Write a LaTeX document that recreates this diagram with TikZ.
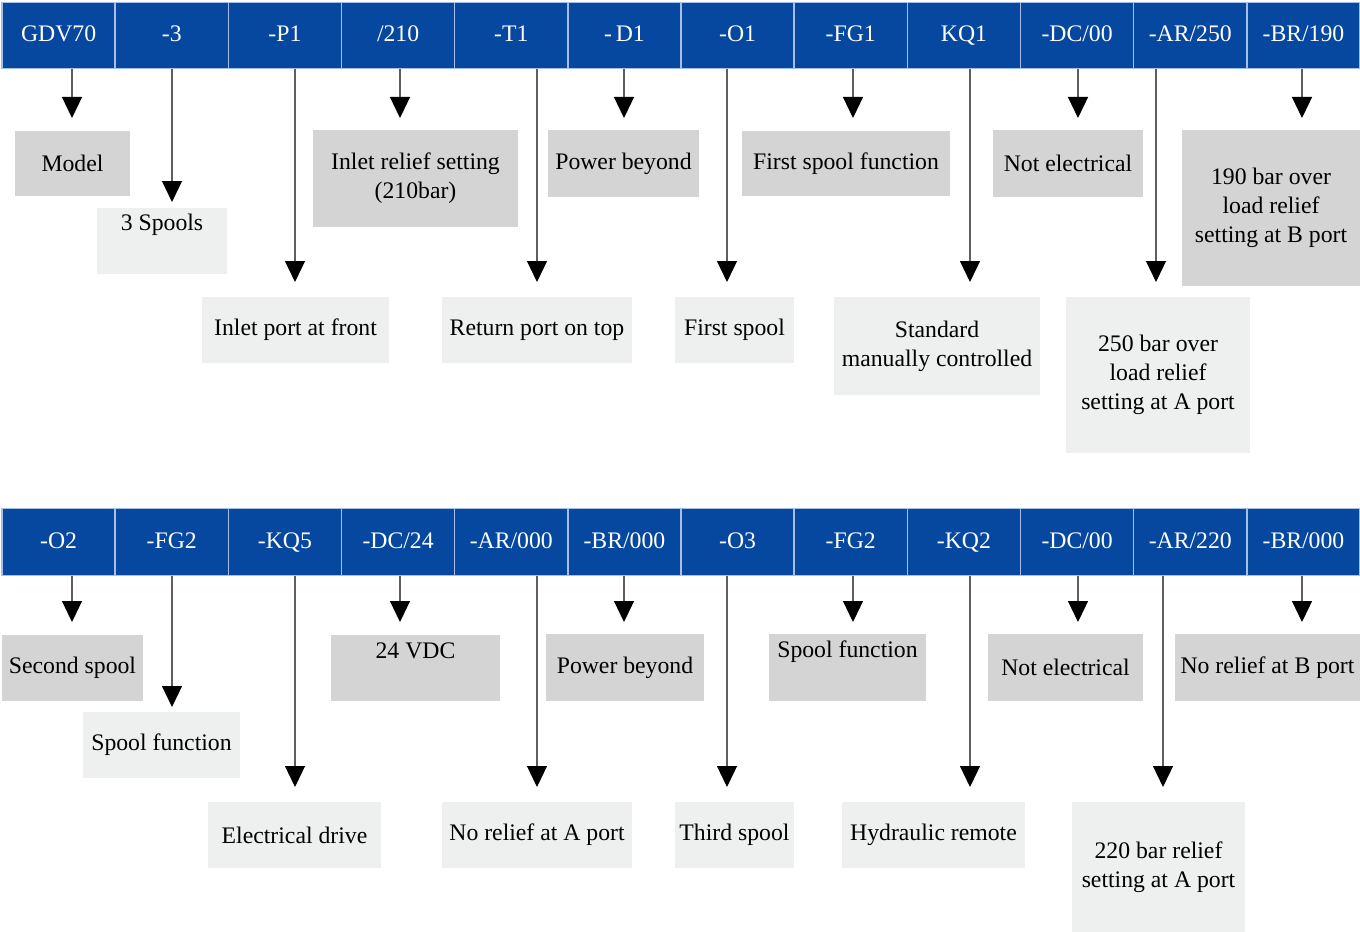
\documentclass[tikz,border=0pt]{standalone}
\usepackage{fontspec}
\setmainfont{LiberationSerif}[Extension=.ttf, UprightFont=*-Regular, BoldFont=*-Bold]
\usetikzlibrary{arrows.meta}

\definecolor{codeblue}{RGB}{6,72,160}
\definecolor{sepblue}{RGB}{165,192,232}
\definecolor{darkbox}{RGB}{212,212,212}
\definecolor{lightbox}{RGB}{238,239,239}
\definecolor{stemgray}{RGB}{95,95,95}

\begin{document}
\begin{tikzpicture}[x=0.02cm, y=-0.02cm,
    every node/.style={font=\fontsize{13.5}{16.5}\selectfont},
    code/.style={rectangle, draw=sepblue, line width=0.8pt, fill=codeblue, text=white, minimum width=2.263cm, minimum height=1.33cm, inner sep=0pt, text height=0.33cm, text depth=0.08cm},
    box/.style 2 args={rectangle, inner sep=0pt, outer sep=0pt, align=center, minimum width=#1*0.02cm, minimum height=#2*0.02cm},
    dark/.style={fill=darkbox},
    light/.style={fill=lightbox},
    topline/.style={text height=0.35cm, text depth=0.75cm},
    arrow/.style={-{Triangle[width=0.4cm, length=0.42cm, black]}, draw=stemgray, line width=0.7pt}
]
    \useasboundingbox (0,0) rectangle (1360,932);

    % ordering code, first line
    \foreach \t [count=\i] in {GDV70, -3, -P1, /210, -T1, -\,D1, -O1, -FG1, KQ1, -DC/00, -AR/250, -BR/190}
        \node[code] (h1-\i) at ({2+113.17*(\i-0.5)},35.5) {\t};

    % ordering code, second line
    \foreach \t [count=\i] in {-O2, -FG2, -KQ5, -DC/24, -AR/000, -BR/000, -O3, -FG2, -KQ2, -DC/00, -AR/220, -BR/000}
        \node[code] (h2-\i) at ({2+113.17*(\i-0.5)},542) {\t};

    % meanings, first line
    \node[box={115}{65}, dark] (model) at (72.5,163.5) {Model};
    \node[box={130}{66}, light, topline] (spools) at (162,241) {3 Spools};
    \node[box={205}{97}, dark] (inrelief) at (415.5,178.5) {Inlet relief setting\\(210bar)};
    \node[box={151}{67}, dark] (beyond1) at (623.5,163.5) {Power beyond};
    \node[box={208}{65}, dark] (firstfunc) at (846,163.5) {First spool function};
    \node[box={150}{67}, dark] (notel1) at (1068,163.5) {Not electrical};
    \node[box={178}{156}, dark] (brelief1) at (1271,208) {190 bar over\\load relief\\setting at B port};
    \node[box={187}{66}, light] (inport) at (295.5,330) {Inlet port at front};
    \node[box={190}{66}, light] (retport) at (537,330) {Return port on top};
    \node[box={119}{66}, light] (spool1) at (734.5,330) {First spool};
    \node[box={206}{98}, light] (manual) at (937,346) {Standard\\manually controlled};
    \node[box={184}{156}, light] (arelief1) at (1158,375) {250 bar over\\load relief\\setting at A port};

    % meanings, second line
    \node[box={141}{66}, dark] (spool2) at (72.5,668) {Second spool};
    \node[box={157}{66}, light] (func2) at (161.5,745) {Spool function};
    \node[box={169}{66}, dark, topline] (vdc) at (415.5,668) {24 VDC};
    \node[box={158}{67}, dark] (beyond2) at (625,667.5) {Power beyond};
    \node[box={157}{67}, dark, topline] (func3) at (847.5,667.5) {Spool function};
    \node[box={155}{67}, dark] (notel2) at (1065.5,667.5) {Not electrical};
    \node[box={185}{67}, dark] (brelief2) at (1267.5,667.5) {No relief at B port};
    \node[box={173}{66}, light] (edrive) at (294.5,835) {Electrical drive};
    \node[box={190}{66}, light] (arelief2) at (537,835) {No relief at A port};
    \node[box={119}{66}, light] (spool3) at (734.5,835) {Third spool};
    \node[box={183}{66}, light] (hremote) at (933.5,835) {Hydraulic remote};
    \node[box={173}{130}, light] (arelief3) at (1158.5,867) {220 bar relief\\setting at A port};

    % arrows from the code fields
    \foreach \c/\x/\y in {1/72/118, 2/172/202, 3/295/282, 4/400/118, 5/537/282, 6/624/118,
                          7/727/282, 8/853/118, 9/970/282, 10/1078/118, 11/1156/282, 12/1302/118} {
        \coordinate (t1-\c) at (\x,\y);
        \draw[arrow] (h1-\c.south -| t1-\c) -- (t1-\c);
    }
    \foreach \c/\x/\y in {1/72/622, 2/172/707, 3/295/787, 4/400/622, 5/537/787, 6/624/622,
                          7/727/787, 8/853/622, 9/970/787, 10/1078/622, 11/1163/787, 12/1302/622} {
        \coordinate (t2-\c) at (\x,\y);
        \draw[arrow] (h2-\c.south -| t2-\c) -- (t2-\c);
    }
\end{tikzpicture}
\end{document}
